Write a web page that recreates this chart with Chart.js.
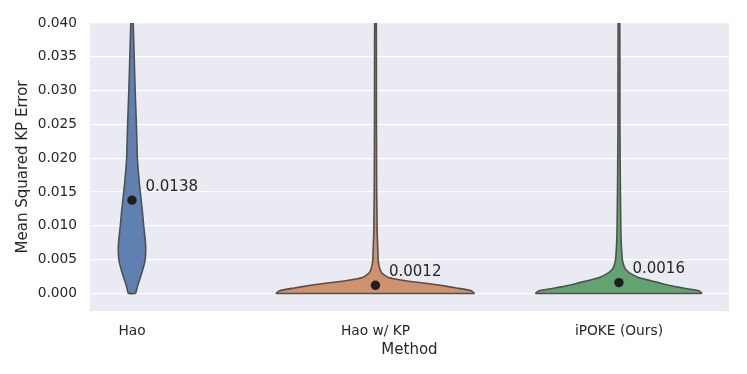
<!DOCTYPE html>
<html>
<head>
<meta charset="utf-8">
<script src="https://cdn.jsdelivr.net/npm/chart.js@4/dist/chart.umd.min.js"></script>
<style>
  html, body { margin: 0; padding: 0; background: #fff; }
  #wrap { width: 747px; height: 374px; }
</style>
</head>
<body>
<div id="wrap"><canvas id="chart" width="747" height="374"></canvas></div>
<script>
// categories and summary values
const methods = ['Hao', 'Hao w/ KP', 'iPOKE (Ours)'];
const medians = [0.0138, 0.0012, 0.0016];
const yTicks = [0, 0.005, 0.01, 0.015, 0.02, 0.025, 0.03, 0.035, 0.04];

// violin outlines: error level -> half width (in category units)
const haoLevels = [0, 0.001, 0.002, 0.003, 0.004, 0.005, 0.006, 0.007, 0.008, 0.009, 0.01, 0.012, 0.014, 0.016, 0.018, 0.02, 0.0225, 0.025, 0.03, 0.035, 0.04, 0.045];
const haoWidths = [0.015, 0.022, 0.031, 0.040, 0.048, 0.054, 0.056, 0.056, 0.054, 0.051, 0.048, 0.043, 0.037, 0.031, 0.026, 0.022, 0.020, 0.018, 0.013, 0.009, 0.005, 0.004];

const kpLevels = [0, 0.0004, 0.0008, 0.0012, 0.0015, 0.0018, 0.0021, 0.0024, 0.0028, 0.0032, 0.004, 0.005, 0.007, 0.009, 0.015, 0.025, 0.045];
const kpWidths = [0.407, 0.394, 0.333, 0.267, 0.205, 0.136, 0.086, 0.051, 0.033, 0.023, 0.015, 0.011, 0.009, 0.007, 0.005, 0.004, 0.003];

const ipokeLevels = [0, 0.0004, 0.0008, 0.0012, 0.0016, 0.002, 0.0024, 0.003, 0.0035, 0.004, 0.005, 0.007, 0.009, 0.015, 0.025, 0.045];
const ipokeWidths = [0.341, 0.329, 0.263, 0.205, 0.162, 0.117, 0.078, 0.045, 0.029, 0.021, 0.014, 0.010, 0.008, 0.006, 0.004, 0.003];

const fills = ['#6080b2', '#d0916d', '#64a371'];
const TEXT = '#262626';
const FONT = "'DejaVu Sans', sans-serif";

// closed outline: up the right side, back down the left side
const outline = (center, levels, widths) => {
  const right = levels.map((v, i) => ({ x: center + widths[i], y: v }));
  const left = levels.map((v, i) => ({ x: center - widths[i], y: v })).reverse();
  const pts = right.concat(left);
  pts.push(pts[0]);
  return pts;
};

const profiles = [[haoLevels, haoWidths], [kpLevels, kpWidths], [ipokeLevels, ipokeWidths]];

const violinSets = profiles.map(([lv, wd], i) => ({
  data: outline(i, lv, wd),
  showLine: true,
  fill: 'shape',
  backgroundColor: fills[i],
  borderColor: '#505050',
  borderWidth: 1.6,
  borderJoinStyle: 'round',
  pointRadius: 0,
  tension: 0.15, // also keeps chart.js off its fast path, which merges points per x pixel
  clip: 0,
  order: 1
}));

const bgPlugin = {
  id: 'bg',
  beforeDraw(chart) {
    const { ctx, chartArea: a } = chart;
    ctx.save();
    ctx.fillStyle = '#EAEAF2';
    ctx.fillRect(a.left, a.top, a.right - a.left, a.bottom - a.top);
    ctx.restore();
  }
};

// median value labels next to the dots
const labelPlugin = {
  id: 'medianLabels',
  afterDatasetsDraw(chart) {
    const { ctx, scales } = chart;
    ctx.save();
    ctx.font = '15px ' + FONT;
    ctx.fillStyle = TEXT;
    ctx.textAlign = 'left';
    ctx.textBaseline = 'middle';
    medians.forEach((m, i) => {
      const px = scales.x.getPixelForValue(i);
      const py = scales.y.getPixelForValue(m);
      ctx.fillText(m.toFixed(4), px + 13.5, py - 13.3);
    });
    ctx.restore();
  }
};

new Chart(document.getElementById('chart'), {
  type: 'scatter',
  data: {
    datasets: [
      {
        data: medians.map((m, i) => ({ x: i, y: m })),
        pointRadius: 4.7,
        pointBackgroundColor: '#1e1e1e',
        pointBorderWidth: 0,
        order: 0
      },
      ...violinSets
    ]
  },
  options: {
    responsive: false,
    animation: false,
    layout: { padding: { left: 0, right: 18, top: 23, bottom: 0 } },
    plugins: { legend: { display: false }, tooltip: { enabled: false } },
    scales: {
      x: {
        type: 'linear',
        min: -0.1725,
        max: 2.452,
        afterBuildTicks: s => { s.ticks = methods.map((_, i) => ({ value: i })); },
        afterFit: s => { s.height = 63; },
        ticks: {
          callback: v => methods[v],
          font: { family: FONT, size: 13.75 },
          color: TEXT,
          padding: 4,
          maxRotation: 0
        },
        grid: { display: false },
        border: { display: false },
        title: {
          display: true,
          text: 'Method',
          font: { family: FONT, size: 15 },
          color: TEXT,
          padding: { top: 0, bottom: 15 }
        }
      },
      y: {
        min: -0.0026,
        max: 0.04,
        afterBuildTicks: s => { s.ticks = yTicks.map(v => ({ value: v })); },
        afterFit: s => { s.width = 90; },
        ticks: {
          callback: v => v.toFixed(3),
          font: { family: FONT, size: 13.75 },
          color: TEXT,
          padding: 13
        },
        grid: { color: '#ffffff', lineWidth: 1.3, drawTicks: false },
        border: { display: false },
        title: {
          display: true,
          text: 'Mean Squared KP Error',
          font: { family: FONT, size: 15 },
          color: TEXT,
          padding: { top: 14, bottom: 0 }
        }
      }
    }
  },
  plugins: [bgPlugin, labelPlugin]
});
</script>
</body>
</html>
